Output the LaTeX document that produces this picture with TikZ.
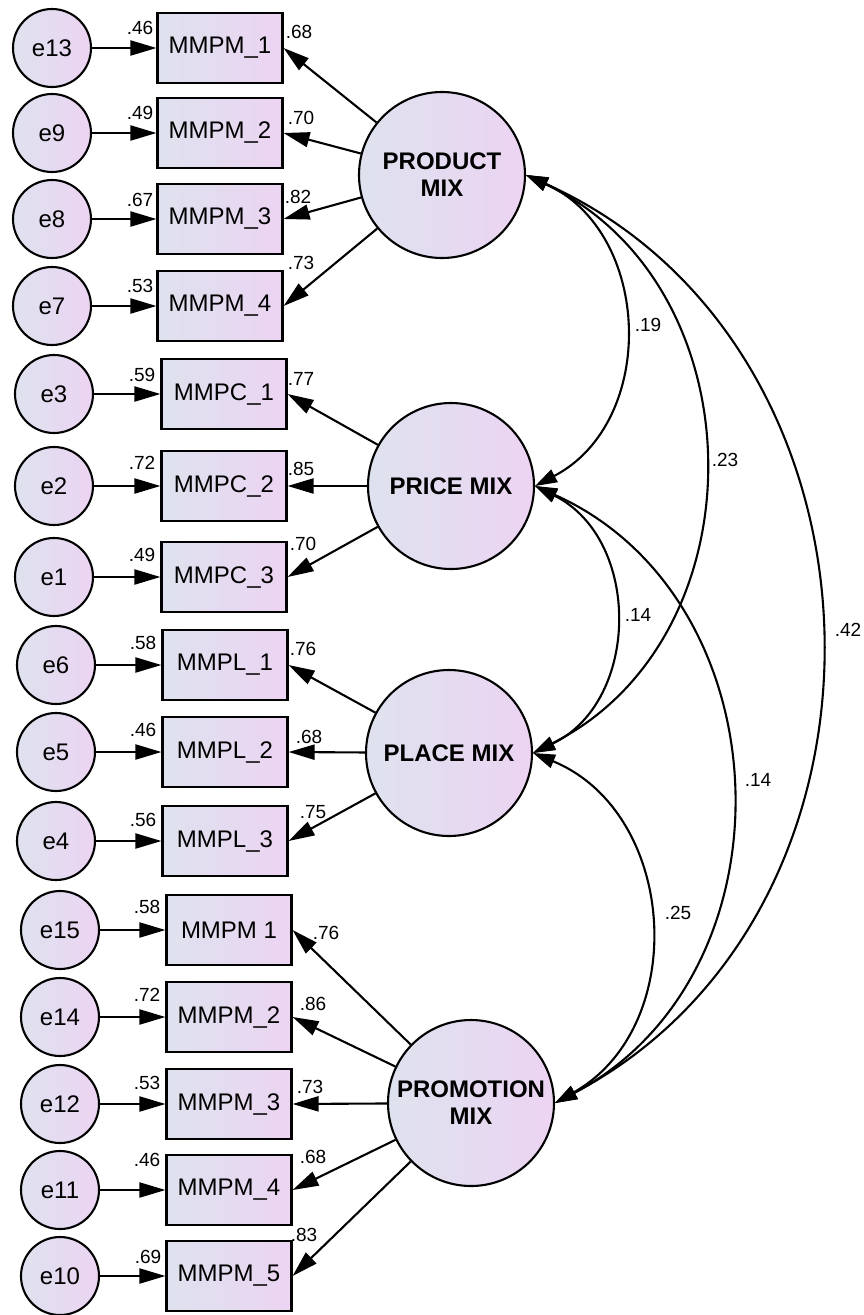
\documentclass[tikz,border=0pt]{standalone}
\usepackage{fontspec}
\setmainfont{Liberation Sans}
\usetikzlibrary{arrows.meta}
\definecolor{fillL}{RGB}{222,226,238}
\definecolor{fillR}{RGB}{236,212,242}
\begin{document}
\begin{tikzpicture}[x=1pt,y=-1pt,
  shp/.style={draw=black, line width=2.1pt, left color=fillL, right color=fillR},
  obs/.style={shp, rectangle, minimum width=125pt, minimum height=70pt, inner sep=0pt, font=\fontsize{24}{28}\selectfont},
  err/.style={shp, circle, minimum size=78pt, inner sep=0pt, font=\fontsize{24}{28}\selectfont},
  lat/.style={shp, circle, minimum size=166pt, inner sep=0pt, align=center, font=\fontsize{24}{27}\selectfont\bfseries},
  numlbl/.style={font=\fontsize{19}{21}\selectfont, inner sep=0pt},
  ldarrow/.style={line width=2.1pt, -{Triangle[length=26pt,width=15pt]}},
  cov/.style={line width=2.1pt, {Triangle[length=22pt,width=14pt]}-{Triangle[length=22pt,width=14pt]}, bend left=64, looseness=1.14},
]
\useasboundingbox (0,0) rectangle (864,1315);

% latent factors
\node[lat] (prod) at (442,175) {PRODUCT\\MIX};
\node[lat] (price) at (451,486) {PRICE MIX};
\node[lat] (place) at (449,753) {PLACE MIX};
\node[lat] (promo) at (471,1103) {PROMOTION\\MIX};

% product mix indicators
\node[obs] (a1) at (220,48) {MMPM\_1};
\node[obs] (a2) at (220,133) {MMPM\_2};
\node[obs] (a3) at (220,219) {MMPM\_3};
\node[obs] (a4) at (220,306) {MMPM\_4};
\node[err] (e13) at (52,48) {e13};
\node[err] (e9) at (52,133) {e9};
\node[err] (e8) at (52,219) {e8};
\node[err] (e7) at (52,306) {e7};

% price mix indicators
\node[obs] (b1) at (224,394) {MMPC\_1};
\node[obs] (b2) at (224,486) {MMPC\_2};
\node[obs] (b3) at (224,577) {MMPC\_3};
\node[err] (e3) at (54,394) {e3};
\node[err] (e2) at (54,486) {e2};
\node[err] (e1) at (54,577) {e1};

% place mix indicators
\node[obs] (c1) at (225,665) {MMPL\_1};
\node[obs] (c2) at (225,752) {MMPL\_2};
\node[obs] (c3) at (225,841) {MMPL\_3};
\node[err] (e6) at (56,665) {e6};
\node[err] (e5) at (56,752) {e5};
\node[err] (e4) at (56,841) {e4};

% promotion mix indicators
\node[obs] (d1) at (229,930) {MMPM 1};
\node[obs] (d2) at (229,1017) {MMPM\_2};
\node[obs] (d3) at (229,1104) {MMPM\_3};
\node[obs] (d4) at (229,1190) {MMPM\_4};
\node[obs] (d5) at (229,1276) {MMPM\_5};
\node[err] (e15) at (60,930) {e15};
\node[err] (e14) at (60,1017) {e14};
\node[err] (e12) at (60,1104) {e12};
\node[err] (e11) at (60,1190) {e11};
\node[err] (e10) at (60,1276) {e10};

% error terms to indicators
\foreach \e/\m in {e13/a1,e9/a2,e8/a3,e7/a4,e3/b1,e2/b2,e1/b3,e6/c1,e5/c2,e4/c3,e15/d1,e14/d2,e12/d3,e11/d4,e10/d5}
  \draw[ldarrow] (\e) -- (\m);

% factor loadings
\foreach \m in {a1,a2,a3,a4} \draw[ldarrow] (prod) -- (\m.east);
\foreach \m in {b1,b2,b3} \draw[ldarrow] (price) -- (\m.east);
\foreach \m in {c1,c2,c3} \draw[ldarrow] (place) -- (\m.east);
\foreach \m in {d1,d2,d3,d4,d5} \draw[ldarrow] (promo) -- (\m.east);

% covariances
\draw[cov] (prod.east) to (price.east);
\draw[cov] (prod.east) to (place.east);
\draw[cov] (prod.east) to (promo.east);
\draw[cov] (price.east) to (place.east);
\draw[cov] (price.east) to (promo.east);
\draw[cov] (place.east) to (promo.east);

% squared multiple correlations
\node[numlbl] (r13) at (140,28) {.46};
\node[numlbl] (r9) at (140,113) {.49};
\node[numlbl] (r8) at (140,200) {.67};
\node[numlbl] (r7) at (140,286) {.53};
\node[numlbl] (r3) at (142,375) {.59};
\node[numlbl] (r2) at (142,463) {.72};
\node[numlbl] (r1) at (142,555) {.49};
\node[numlbl] (r6) at (143,643) {.58};
\node[numlbl] (r5) at (143,730) {.46};
\node[numlbl] (r4) at (143,820) {.56};
\node[numlbl] (r15) at (147,907) {.58};
\node[numlbl] (r14) at (147,995) {.72};
\node[numlbl] (r12) at (147,1083) {.53};
\node[numlbl] (r11) at (147,1160) {.46};
\node[numlbl] (r10) at (148,1257) {.69};

% standardized loadings
\node[numlbl] (la1) at (299,32) {.68};
\node[numlbl] (la2) at (301,118) {.70};
\node[numlbl] (la3) at (298,197) {.82};
\node[numlbl] (la4) at (301,263) {.73};
\node[numlbl] (lb1) at (301,379) {.77};
\node[numlbl] (lb2) at (301,469) {.85};
\node[numlbl] (lb3) at (303,544) {.70};
\node[numlbl] (lc1) at (303,649) {.76};
\node[numlbl] (lc2) at (309,737) {.68};
\node[numlbl] (lc3) at (313,812) {.75};
\node[numlbl] (ld1) at (326,933) {.76};
\node[numlbl] (ld2) at (313,1004) {.86};
\node[numlbl] (ld3) at (310,1087) {.73};
\node[numlbl] (ld4) at (313,1157) {.68};
\node[numlbl] (ld5) at (304,1235) {.83};

% correlations
\node[numlbl] (k1) at (648,325) {.19};
\node[numlbl] (k2) at (725,460) {.23};
\node[numlbl] (k3) at (848,630) {.42};
\node[numlbl] (k4) at (638,615) {.14};
\node[numlbl] (k5) at (758,780) {.14};
\node[numlbl] (k6) at (678,913) {.25};
\end{tikzpicture}
\end{document}
